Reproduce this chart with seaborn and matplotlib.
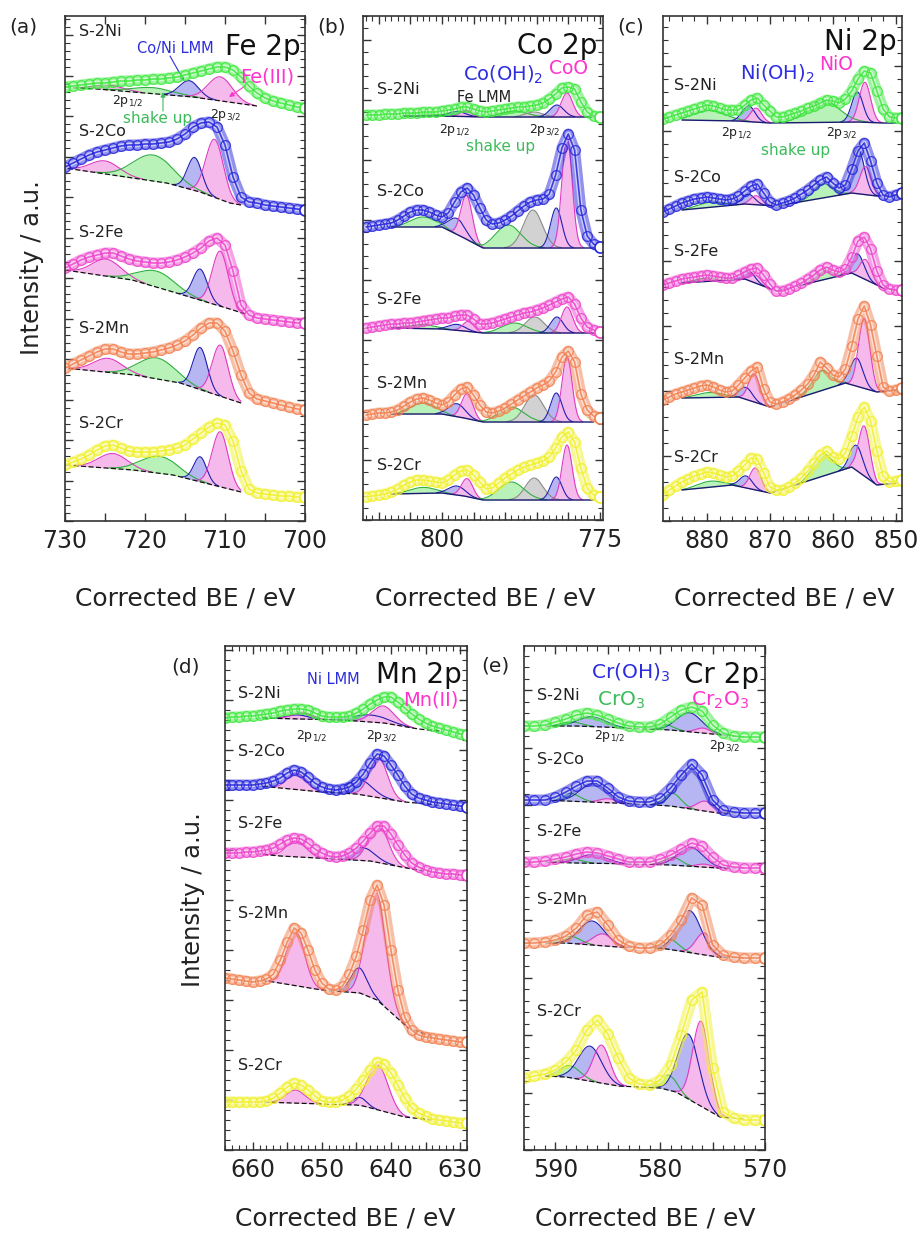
import numpy as np
import pandas as pd
import matplotlib
matplotlib.use("Agg")
import matplotlib.pyplot as plt
import seaborn as sns
from matplotlib.ticker import MultipleLocator, NullFormatter, FuncFormatter

sns.set_theme(style="ticks")
plt.rcParams["font.family"] = ["DejaVu Sans"]
plt.rcParams["mathtext.fontset"] = "dejavusans"

W, H = 921, 1236

SAMPLES = ["S-2Ni", "S-2Co", "S-2Fe", "S-2Mn", "S-2Cr"]
LINE_COLORS = ["#3ee83e", "#2626dc", "#ee44cc", "#f28050", "#f0f02a"]
FILL = {"pink": "#f6b9ec", "blue": "#b6b6f2", "green": "#b8f2b8", "gray": "#d2d2d2"}
EDGE = {"pink": "#e03cc0", "blue": "#2020b0", "green": "#30b040", "gray": "#8a8a8a"}

# ---------------- (a) Fe 2p ----------------
fe_be = list(range(730, 699, -1))
fe_ni = [434,435,436,437,438,438,439,440,440,441,441,442,442,443,444,446,448,450,452,454,454,451,444,435,428,423,420,418,416,414,413]
fe_co = [354,358,362,366,369,371,373,375,376,376,377,377,378,379,382,387,394,398,399,394,376,344,324,319,318,316,315,314,313,312,311]
fe_fe = [253,257,261,264,266,268,268,265,262,260,259,258,258,259,261,264,268,273,280,283,276,250,216,206,203,202,201,200,199,198,198]
fe_mn = [153,157,161,165,169,172,172,169,167,167,168,169,171,173,176,180,186,193,198,198,190,170,146,128,122,120,118,116,114,112,111]
fe_cr = [56,59,62,66,71,75,76,73,70,69,69,69,70,71,73,76,82,88,94,98,96,80,50,32,28,27,26,25,25,24,24]
fe_base = [
    [(730,434),(726,432),(714,424),(706,415)],
    [(730,353),(717.3,338),(713.1,329),(709.4,318),(708,316)],
    [(730,251),(721.6,241),(716.9,230),(709,211),(707.5,207)],
    [(730,153),(721.3,146),(715.6,138),(708,118)],
    [(730,56),(721.5,51),(716.5,46),(708,29)],
]
fe_peaks = [
    [("pink",724.5,5,1.8),("green",719,6,2.5),("blue",714.5,16,1.2),("pink",710.6,24,1.5)],
    [("pink",725,13,1.8),("green",719,26,2.5),("blue",713.8,33,0.9),("pink",711.3,58,1.1)],
    [("pink",724.8,17,1.8),("green",718.5,16,2.3),("blue",713.1,31,0.9),("pink",710.6,55,1.0)],
    [("pink",724.6,14,1.8),("green",718.5,21,2.3),("blue",713.1,42,0.9),("pink",710.6,51,1.0)],
    [("pink",724,15,1.8),("green",718.2,17,2.3),("blue",713.1,25,0.8),("pink",710.6,55,1.0)],
]

# ---------------- (b) Co 2p ----------------
co_be = list(range(812, 774, -1))
co_ni = [405,405,405,406,406,406,407,407,407,408,408,408,409,410,411,413,413,411,409,408,409,410,411,412,413,413,414,415,417,421,426,432,433,431,418,408,404,403]
co_co = [293,294,295,296,297,300,304,308,310,310,308,305,303,307,318,328,332,325,312,300,296,297,300,304,309,314,318,320,321,326,345,372,386,370,310,284,276,273]
co_fe = [192,193,194,195,196,196,197,197,198,199,200,201,202,202,204,205,205,201,196,196,197,199,201,203,205,207,208,210,212,215,218,221,223,216,202,193,190,188]
co_mn = [105,106,107,107,108,110,114,118,121,122,120,117,115,118,125,131,133,125,115,108,107,109,112,116,120,124,128,132,135,139,148,163,169,158,126,110,104,102]
co_cr = [23,24,25,26,28,31,35,38,40,40,39,38,37,40,45,49,50,45,38,31,32,37,42,46,50,53,55,57,59,63,72,83,88,78,52,32,25,23]
co_base = [
    [(806,404),(800,404),(796.5,403.5),(793.5,403),(776,403)],
    [(808,293),(800,293),(796.5,282),(793.5,272),(776,272)],
    [(808,192),(800,191),(796.5,189),(793.5,187),(776,187)],
    [(808,106),(800,106),(796.5,102),(793.5,98),(776,98)],
    [(808,26),(800,27),(796.5,24),(793.5,20),(776,20)],
]
co_peaks = [
    [("green",803,3,2.0),("blue",797.6,5,1.3),("pink",796.2,6,0.9),("green",788.5,6,2.0),("gray",785.4,5,1.4),("blue",781.8,12,1.1),("pink",780.2,24,0.9)],
    [("green",803,10,2.0),("blue",797.6,16,1.3),("pink",796.1,44,0.9),("green",789.5,23,2.0),("gray",785.6,38,1.5),("blue",781.9,40,0.9),("pink",780.2,112,0.8)],
    [("green",803,4,2.0),("blue",797.6,6,1.3),("pink",795.8,10,0.9),("green",788.5,10,2.0),("gray",785.3,16,1.5),("blue",781.8,16,1.0),("pink",780.2,26,0.9)],
    [("green",803,11,2.0),("blue",797.6,13,1.3),("pink",796,25,0.9),("green",789,15,2.0),("gray",785.4,27,1.5),("blue",781.9,29,0.9),("pink",780.2,65,0.8)],
    [("green",803,6,2.0),("blue",797.6,9,1.3),("pink",796,18,0.9),("green",789,18,2.0),("gray",785.4,22,1.4),("blue",781.9,23,0.9),("pink",780.2,55,0.8)],
]

# ---------------- (c) Ni 2p ----------------
ni_be = list(range(887, 848, -1))
ni_ni = [402,404,406,408,410,412,414,416,415,413,411,411,411,416,421,423,416,410,404,404,406,408,410,413,415,418,421,420,418,422,430,442,450,448,430,412,404,403,403]
ni_co = [309,312,315,318,320,322,323,324,323,322,321,322,325,330,335,337,328,319,316,318,320,323,327,331,336,341,344,338,333,336,352,370,378,360,338,326,324,326,328]
ni_fe = [236,238,240,242,243,244,245,246,245,244,243,243,246,249,252,253,246,237,230,230,232,235,238,242,246,251,254,251,249,252,264,280,284,272,250,236,232,231,231]
ni_mn = [121,124,127,129,131,133,135,136,134,131,129,130,136,143,150,154,132,119,117,119,122,126,131,137,146,159,153,146,144,152,175,202,215,196,165,134,130,131,133]
ni_cr = [26,31,35,39,42,45,47,49,48,46,44,45,50,56,63,62,48,34,31,31,34,38,43,50,58,66,70,64,62,68,85,104,114,100,70,45,39,40,41]
ni_base = [
    [(884,401),(875,400),(870,398),(856,399),(852,398),(850,398)],
    [(884,311),(874,317),(869,315),(857,328),(853,325),(850,326)],
    [(884,238),(874,242),(869,230),(857,248),(852,233),(850,231)],
    [(884,123),(875,124),(870,114),(858,138),(853,129),(850,131)],
    [(884,31),(876,36),(870,28),(857,54),(853,36),(850,38)],
]
ni_peaks = [
    [("green",879.5,10,2.5),("blue",873.4,16,1.0),("pink",872.2,14,0.9),("green",861.5,22,2.5),("blue",856.1,30,0.9),("pink",854.9,40,0.9)],
    [("green",879.5,5,2.0),("blue",873.4,10,1.0),("pink",872.2,9,0.9),("green",861.5,14,1.5),("blue",856.0,45,1.0),("pink",854.8,28,0.9)],
    [("green",879.5,4,2.0),("blue",873.4,10,1.0),("pink",872.2,8,0.9),("green",861.5,12,1.5),("blue",856.0,22,1.0),("pink",854.8,20,0.9)],
    [("green",879.5,5,2.0),("blue",873.8,12,1.0),("pink",872.5,28,0.9),("green",861.8,20,1.5),("blue",856.2,28,1.0),("pink",855.0,70,0.9)],
    [("green",879.5,6,2.0),("blue",873.8,12,1.0),("pink",872.3,22,0.9),("green",861.6,22,1.5),("blue",856.2,25,1.0),("pink",855.0,50,0.9)],
]

# ---------------- (d) Mn 2p ----------------
mn_be = list(range(664, 628, -1))
mn_ni = [432,433,433,434,434,435,436,437,439,440,441,441,440,437,434,433,433,433,434,437,441,446,450,453,453,448,442,436,431,427,424,422,420,418,416,415]
mn_co = [365,365,365,365,365,366,367,369,372,377,380,378,373,367,363,361,360,361,363,368,376,387,396,394,385,375,364,356,352,350,348,347,346,345,344,343]
mn_fe = [297,297,297,298,298,299,300,302,306,310,312,311,307,301,297,294,293,294,297,302,309,317,324,324,316,305,295,287,283,280,278,277,276,276,275,275]
mn_mn = [172,171,170,169,168,169,171,176,190,208,222,217,200,180,167,161,160,164,176,194,220,250,265,245,200,160,133,120,115,113,112,111,110,109,108,108]
mn_cr = [48,48,48,48,48,48,49,52,57,63,67,65,60,54,49,48,48,50,54,61,70,80,88,86,77,65,52,42,37,34,31,30,29,28,27,27]
mn_base = [
    [(659,432),(647,430),(641,427),(636,421),(633,419)],
    [(659,364),(656,362),(650,358),(645,356),(638,348),(633,345)],
    [(659,296),(656,294),(648,291),(643,289),(637,281),(633,277)],
    [(659,170),(657,168),(650,160),(644.5,157),(642,150),(637.5,122),(634,113)],
    [(659,48),(645,45),(644,44),(638,33),(634,30)],
]
mn_peaks = [
    [("blue",653.5,4,1.5),("pink",652.8,6,1.5),("blue",643,7,2.5),("pink",641.1,17,1.6)],
    [("pink",653.6,17,1.3),("blue",644.5,15,1.8),("pink",641.8,40,1.3)],
    [("pink",653.7,16,1.4),("blue",644.2,13,1.8),("pink",641.8,38,1.4)],
    [("pink",653.8,55,1.3),("blue",644.6,25,1.2),("pink",642.2,110,1.4)],
    [("pink",653.8,13,1.4),("blue",644.5,8,1.0),("pink",641.9,45,1.5)],
]

# ---------------- (e) Cr 2p ----------------
cr_be = list(range(593, 569, -1))
cr_ni = [424,424,425,428,431,435,437,435,431,427,424,423,423,426,433,440,443,439,425,417,414,413,413,413]
cr_co = [350,350,350,353,358,364,369,369,362,353,349,348,348,352,362,375,386,375,350,340,338,337,337,337]
cr_fe = [288,288,289,291,293,296,298,297,294,291,288,288,288,291,295,301,307,304,293,285,283,282,282,282]
cr_mn = [207,207,208,210,214,222,235,238,225,210,204,202,202,205,215,230,252,245,205,195,193,192,192,192]
cr_cr = [72,74,76,80,88,100,120,130,116,92,72,66,65,70,85,115,150,158,82,38,32,30,30,30]
cr_base = [
    [(591,424),(588,424),(583,422),(579,420),(574,415),(572,413)],
    [(591,350),(589,349),(582,346),(579,344),(574.5,337),(572,337)],
    [(591,288),(588,287),(582,286),(579,285),(574.5,282),(572,282)],
    [(591,207),(589,207),(584,203),(580,202),(574.5,193),(572,192)],
    [(591,74),(589,73),(584,64),(580,62),(578.5,58),(574.3,33),(572,31)],
]
cr_peaks = [
    [("green",588.5,4,1.0),("blue",586.5,10,1.3),("green",579.5,5,0.8),("blue",577.2,19,1.2),("pink",575.9,5,0.7)],
    [("green",588.6,8,0.9),("blue",586.3,19,1.3),("pink",585,4,0.8),("green",578.8,13,0.8),("blue",577.1,42,1.2),("pink",575.7,10,0.8)],
    [("green",588.5,4,1.0),("blue",586.4,9,1.3),("green",578.8,8,0.8),("blue",577.1,19,1.2),("pink",575.8,3,0.7)],
    [("green",588.5,7,0.9),("blue",586.5,24,1.2),("pink",585.5,12,0.9),("green",579,10,0.8),("blue",577.2,42,1.1),("pink",575.8,22,0.8)],
    [("green",588.6,12,1.0),("blue",586.7,35,1.1),("pink",585.6,38,0.8),("green",579.2,15,0.8),("blue",577.3,65,1.0),("pink",576.1,85,0.8)],
]

# ---------------- figure ----------------
fig = plt.figure(figsize=(W / 100, H / 100), dpi=100)


def rect(l, t, r, b):
    return [l / W, 1 - b / H, (r - l) / W, (b - t) / H]


panels = [
    dict(be=fe_be, spec=[fe_ni, fe_co, fe_fe, fe_mn, fe_cr], base=fe_base, peaks=fe_peaks,
         xlim=(730, 700), rect=rect(65, 16, 305, 521), xmaj=5, xmin=None, lab=10, ymin=8.1, dashed=True),
    dict(be=co_be, spec=[co_ni, co_co, co_fe, co_mn, co_cr], base=co_base, peaks=co_peaks,
         xlim=(812.5, 774.5), rect=rect(363, 16, 603, 520), xmaj=5, xmin=1, lab=25, ymin=12, dashed=False),
    dict(be=ni_be, spec=[ni_ni, ni_co, ni_fe, ni_mn, ni_cr], base=ni_base, peaks=ni_peaks,
         xlim=(887, 849), rect=rect(663, 16, 902, 521), xmaj=10, xmin=2, lab=10, ymin=13, dashed=False),
    dict(be=mn_be, spec=[mn_ni, mn_co, mn_fe, mn_mn, mn_cr], base=mn_base, peaks=mn_peaks,
         xlim=(664, 629), rect=rect(225, 646, 467, 1150), xmaj=5, xmin=1, lab=10, ymin=10, dashed=True),
    dict(be=cr_be, spec=[cr_ni, cr_co, cr_fe, cr_mn, cr_cr], base=cr_base, peaks=cr_peaks,
         xlim=(593, 570), rect=rect(524, 646, 765, 1150), xmaj=5, xmin=1, lab=10, ymin=11.5, dashed=True),
]

axes = []
for p in panels:
    ax = fig.add_axes(p["rect"])
    axes.append(ax)
    for i, name in enumerate(SAMPLES):
        knots = np.array(p["base"][i], dtype=float)
        order = np.argsort(knots[:, 0])
        bx, by = knots[order, 0], knots[order, 1]
        xf = np.linspace(bx[0], bx[-1], 800)
        yb = np.interp(xf, bx, by)
        for kind, c, h, s in p["peaks"][i]:
            g = h * np.exp(-0.5 * ((xf - c) / s) ** 2)
            m = g > 0.4
            ax.fill_between(xf, yb, yb + g, where=m, color=FILL[kind], lw=0, zorder=2)
            ax.plot(xf[m], (yb + g)[m], color=EDGE[kind], lw=0.8, zorder=2.5)
        if p["dashed"]:
            ax.plot(bx, by, color="#111111", lw=0.9, ls=(0, (4, 2)), zorder=3)
        else:
            ax.plot(bx, by, color="#1a1a70", lw=1.0, zorder=3)
        df = pd.DataFrame({"be": p["be"], "I": p["spec"][i]})
        col = LINE_COLORS[i]
        # dense band of measured points
        sns.lineplot(data=df, x="be", y="I", ax=ax, color=col, sort=False, legend=False,
                     linewidth=8, alpha=0.5, zorder=3.6, solid_capstyle="round", solid_joinstyle="round")
        sns.lineplot(data=df, x="be", y="I", ax=ax, color="white", sort=False, legend=False,
                     linewidth=3.2, alpha=0.55, zorder=3.7, solid_joinstyle="round")
        sns.lineplot(data=df, x="be", y="I", ax=ax, color=col, sort=False, legend=False,
                     marker="o", markersize=7, markerfacecolor="none", markeredgecolor=col,
                     markeredgewidth=0.9, linewidth=1.2, alpha=0.85, zorder=4)
        ax.plot([p["be"][-1]], [p["spec"][i][-1]], "o", ms=8, mfc="white", mec=col, mew=1.2, zorder=5)
    ax.set_xlim(*p["xlim"])
    ax.set_ylim(0, p["rect"][3] * H)
    ax.set_xlabel("")
    ax.set_ylabel("")
    ax.xaxis.set_major_locator(MultipleLocator(p["xmaj"]))
    if p["xmin"]:
        ax.xaxis.set_minor_locator(MultipleLocator(p["xmin"]))
    lab = p["lab"]
    ax.xaxis.set_major_formatter(FuncFormatter(
        lambda v, pos, lab=lab: ("%d" % round(v)) if abs(v / lab - round(v / lab)) < 1e-6 else ""))
    ax.yaxis.set_major_locator(MultipleLocator(p["ymin"] * 5))
    ax.yaxis.set_minor_locator(MultipleLocator(p["ymin"]))
    ax.yaxis.set_major_formatter(NullFormatter())
    ax.tick_params(which="both", direction="in", top=True, right=True, colors="#333333",
                   labelcolor="#222222", labelsize=17)
    ax.tick_params(which="major", length=6, width=1.0, pad=6)
    ax.tick_params(which="minor", length=3.5, width=0.8)
    for sp in ax.spines.values():
        sp.set_color("#333333")
        sp.set_linewidth(1.2)
        sp.set_zorder(6)


def T(px, py, s, **kw):
    kw.setdefault("va", "center")
    kw.setdefault("ha", "left")
    fig.text(px / W, 1 - py / H, s, **kw)


def A(x0, y0, x1, y1, color):
    axes[0].annotate("", xy=(x1, H - y1), xytext=(x0, H - y0), xycoords="figure pixels",
                     textcoords="figure pixels",
                     arrowprops=dict(arrowstyle="-|>", color=color, lw=0.8, mutation_scale=7,
                                     shrinkA=0, shrinkB=0))


BLUE_T, PINK_T, GREEN_T = "#2d2de0", "#ff33cc", "#3cbb5a"

# sample labels
label_y = {
    0: [31, 131, 233, 329, 424],
    1: [90, 191, 299, 384, 466],
    2: [85, 178, 252, 360, 457],
    3: [693, 752, 824, 914, 1066],
    4: [696, 759, 832, 899, 1012],
}
label_x = {0: 79, 1: 377, 2: 674, 3: 238, 4: 537}
for k in range(5):
    for j, name in enumerate(SAMPLES):
        T(label_x[k], label_y[k][j], name, fontsize=11.5, color="#222222")

# panel letters
for s, x, y in [("(a)", 9, 27), ("(b)", 317, 27), ("(c)", 617, 27), ("(d)", 171, 667), ("(e)", 481, 666)]:
    T(x, y, s, fontsize=14.5, color="#222222")

# titles
for s, x, y in [("Fe 2p", 301, 47), ("Co 2p", 597, 46), ("Ni 2p", 897, 42), ("Mn 2p", 462, 675), ("Cr 2p", 759, 675)]:
    T(x, y, s, fontsize=20, ha="right", color="#111111")

# axis labels
for x in [185, 485, 784]:
    T(x, 598, "Corrected BE / eV", fontsize=18, ha="center", color="#222222")
for x in [345, 645]:
    T(x, 1218, "Corrected BE / eV", fontsize=18, ha="center", color="#222222")
T(32, 268, "Intensity / a.u.", fontsize=17.5, rotation=90, ha="center", color="#222222")
T(193, 900, "Intensity / a.u.", fontsize=17.5, rotation=90, ha="center", color="#222222")

# (a) annotations
T(137, 48, "Co/Ni LMM", fontsize=10.5, color=BLUE_T)
A(170, 56, 184, 81, BLUE_T)
T(240, 77, "Fe(III)", fontsize=14, color=PINK_T)
A(248, 84, 229, 97, PINK_T)
T(112, 101, r"2p$_{1/2}$", fontsize=9, color="#222222")
T(210, 115, r"2p$_{3/2}$", fontsize=9, color="#222222")
T(123, 118, "shake up", fontsize=11, color=GREEN_T)
A(163, 111, 163, 92, GREEN_T)

# (b) annotations
T(463, 75, r"Co(OH)$_2$", fontsize=14, color=BLUE_T)
T(549, 68, "CoO", fontsize=13.5, color=PINK_T)
T(457, 98, "Fe LMM", fontsize=10.5, color="#222222")
A(508, 104, 528, 109, "#111111")
A(540, 88, 556, 112, BLUE_T)
A(572, 78, 568, 103, PINK_T)
T(439, 130, r"2p$_{1/2}$", fontsize=9, color="#222222")
T(529, 130, r"2p$_{3/2}$", fontsize=9, color="#222222")
T(466, 147, "shake up", fontsize=11, color=GREEN_T)
A(509, 137, 511, 116, GREEN_T)

# (c) annotations
T(740, 74, r"Ni(OH)$_2$", fontsize=14, color=BLUE_T)
T(819, 65, "NiO", fontsize=13.5, color=PINK_T)
A(803, 90, 845, 107, BLUE_T)
A(845, 74, 858, 88, PINK_T)
T(721, 133, r"2p$_{1/2}$", fontsize=9, color="#222222")
T(826, 133, r"2p$_{3/2}$", fontsize=9, color="#222222")
T(761, 150, "shake up", fontsize=11, color=GREEN_T)
A(806, 140, 807, 121, GREEN_T)

# (d) annotations
T(307, 679, "Ni LMM", fontsize=10.5, color=BLUE_T)
A(340, 688, 367, 715, BLUE_T)
T(403, 700, "Mn(II)", fontsize=14, color=PINK_T)
A(407, 708, 394, 717, PINK_T)
T(296, 736, r"2p$_{1/2}$", fontsize=9, color="#222222")
T(366, 736, r"2p$_{3/2}$", fontsize=9, color="#222222")

# (e) annotations
T(591, 673, r"Cr(OH)$_3$", fontsize=14.5, color=BLUE_T)
T(597, 700, r"CrO$_3$", fontsize=14.5, color=GREEN_T)
T(691, 700, r"Cr$_2$O$_3$", fontsize=14.5, color=PINK_T)
A(668, 687, 688, 718, BLUE_T)
A(650, 706, 662, 722, GREEN_T)
A(708, 722, 698, 728, PINK_T)
T(594, 736, r"2p$_{1/2}$", fontsize=9, color="#222222")
T(709, 746, r"2p$_{3/2}$", fontsize=9, color="#222222")

fig.savefig("out.png", dpi=100, facecolor="white")
